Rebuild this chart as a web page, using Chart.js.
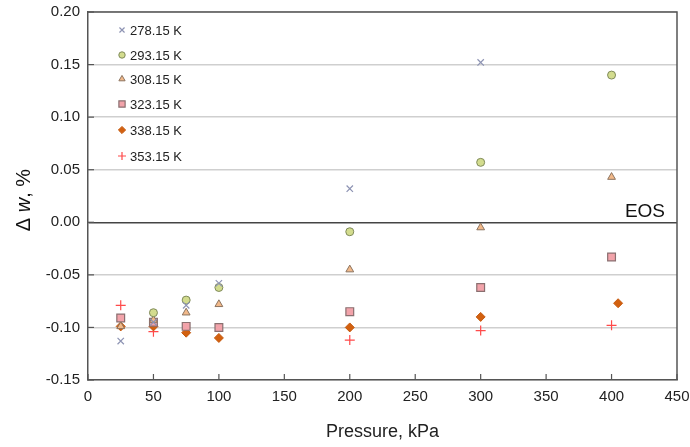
<!DOCTYPE html>
<html>
<head>
<meta charset="utf-8">
<script src="https://cdn.jsdelivr.net/npm/chart.js@4"></script>
<style>
  html, body { margin: 0; padding: 0; background: #fff; }
  #wrap { width: 690px; height: 447px; }
</style>
</head>
<body>
<div id="wrap"><canvas id="eosChart"></canvas></div>
<script>
// Deviation of speed of sound from EOS, %
const seriesLabels = ['278.15 K', '293.15 K', '308.15 K', '323.15 K', '338.15 K', '353.15 K'];
const pressure = [25, 50, 75, 100, 200, 300, 400];

const dev278 = [-0.113, -0.095, -0.079, -0.058, 0.032, 0.152, null];
const dev293 = [null, -0.086, -0.074, -0.062, -0.009, 0.057, 0.140];
const dev308 = [-0.099, -0.093, -0.086, -0.078, -0.045, -0.005, 0.043];
const dev323 = [-0.091, -0.095, -0.099, -0.100, -0.085, -0.062, -0.033];
const dev338 = [-0.099, -0.099, -0.105, -0.110, -0.100, -0.090, -0.077];
const dev353 = [-0.079, -0.104, null, null, -0.112, -0.103, -0.098];
const pressure338 = [25, 50, 75, 100, 200, 300, 405];

const yTicks = [0.20, 0.15, 0.10, 0.05, 0.00, -0.05, -0.10, -0.15];
const xTicks = [0, 50, 100, 150, 200, 250, 300, 350, 400, 450];

function toPoints(xs, ys) {
  return xs.map((x, i) => ({ x: x, y: ys[i] })).filter(p => p.y !== null);
}

const styles = [
  { pointStyle: 'crossRot', radius: 4.5, bg: '#8d93b3', border: '#8d93b3', bw: 1.2 },
  { pointStyle: 'circle', radius: 4, bg: '#d3dc8e', border: '#7f8a5a', bw: 1 },
  { pointStyle: 'triangle', radius: 4.5, bg: '#f2b98a', border: '#8c7460', bw: 1 },
  { pointStyle: 'rect', radius: 5.5, bg: '#f2a3aa', border: '#8a6f70', bw: 1.2 },
  { pointStyle: 'rectRot', radius: 4.5, bg: '#d2600f', border: '#c55a10', bw: 1 },
  { pointStyle: 'cross', radius: 5, bg: '#ff4a4a', border: '#ff4a4a', bw: 1.2 }
];

const allData = [
  toPoints(pressure, dev278),
  toPoints(pressure, dev293),
  toPoints(pressure, dev308),
  toPoints(pressure, dev323),
  toPoints(pressure338, dev338),
  toPoints(pressure, dev353)
];

// draw the legend box, inside ticks, frame, EOS note and y title
const extras = {
  id: 'extras',
  afterDraw(chart) {
    const ctx = chart.ctx;
    const area = chart.chartArea;
    const xs = chart.scales.x, ys = chart.scales.y;
    ctx.save();
    // frame top/right
    ctx.strokeStyle = '#555';
    ctx.lineWidth = 1.5;
    ctx.beginPath();
    ctx.moveTo(area.left, area.top);
    ctx.lineTo(area.right, area.top);
    ctx.lineTo(area.right, area.bottom);
    ctx.stroke();
    // inside ticks
    ctx.lineWidth = 1.2;
    xTicks.forEach(v => {
      const px = xs.getPixelForValue(v);
      ctx.beginPath();
      ctx.moveTo(px, area.bottom);
      ctx.lineTo(px, area.bottom - 6);
      ctx.stroke();
    });
    yTicks.forEach(v => {
      const py = ys.getPixelForValue(v);
      ctx.beginPath();
      ctx.moveTo(area.left, py);
      ctx.lineTo(area.left + 6, py);
      ctx.stroke();
    });
    // legend
    const rowY = [30, 55, 79, 104, 130, 156];
    ctx.font = '13px "Liberation Sans", Arial, sans-serif';
    ctx.textBaseline = 'middle';
    ctx.textAlign = 'left';
    seriesLabels.forEach((lab, i) => {
      const s = styles[i];
      ctx.fillStyle = s.bg;
      ctx.strokeStyle = s.border;
      ctx.lineWidth = s.bw;
      Chart.helpers.drawPoint(ctx, { pointStyle: s.pointStyle, radius: s.radius * 0.8, borderWidth: s.bw }, 122, rowY[i]);
      ctx.fillStyle = '#222';
      ctx.fillText(lab, 130, rowY[i] + 1);
    });
    // EOS note
    ctx.font = '19px "Liberation Sans", Arial, sans-serif';
    ctx.textAlign = 'right';
    ctx.textBaseline = 'alphabetic';
    ctx.fillStyle = '#111';
    ctx.fillText('EOS', 665, 217);
    // y title with italic w
    ctx.translate(24, 200);
    ctx.rotate(-Math.PI / 2);
    ctx.textBaseline = 'middle';
    ctx.textAlign = 'left';
    const f1 = '20px "Liberation Sans", Arial, sans-serif';
    const f2 = 'italic 20px "Liberation Sans", Arial, sans-serif';
    const parts = [['Δ ', f1], ['w', f2], [', %', f1]];
    let total = 0;
    parts.forEach(p => { ctx.font = p[1]; total += ctx.measureText(p[0]).width; });
    let cx = -total / 2;
    parts.forEach(p => {
      ctx.font = p[1];
      ctx.fillText(p[0], cx, 0);
      cx += ctx.measureText(p[0]).width;
    });
    ctx.restore();
  }
};

new Chart(document.getElementById('eosChart'), {
  type: 'scatter',
  data: {
    datasets: allData.map((d, i) => ({
      label: seriesLabels[i],
      data: d,
      pointStyle: styles[i].pointStyle,
      pointRadius: styles[i].radius,
      pointBackgroundColor: styles[i].bg,
      pointBorderColor: styles[i].border,
      pointBorderWidth: styles[i].bw,
      showLine: false
    }))
  },
  options: {
    responsive: true,
    maintainAspectRatio: false,
    animation: false,
    layout: { padding: { top: 12, right: 13, left: 0, bottom: 0 } },
    plugins: {
      legend: { display: false },
      tooltip: { enabled: false }
    },
    scales: {
      x: {
        type: 'linear',
        min: 0,
        max: 450,
        afterBuildTicks: axis => { axis.ticks = xTicks.map(v => ({ value: v })); },
        afterFit: axis => { axis.height = 67; axis.paddingLeft = 0; axis.paddingRight = 0; },
        grid: { display: false, drawTicks: false },
        border: { color: '#555', width: 1.5 },
        ticks: {
          color: '#222',
          padding: 8,
          maxRotation: 0,
          font: { family: '"Liberation Sans", Arial, sans-serif', size: 15 }
        },
        title: {
          display: true,
          text: 'Pressure, kPa',
          color: '#222',
          padding: { top: 6 },
          font: { family: '"Liberation Sans", Arial, sans-serif', size: 18 }
        }
      },
      y: {
        min: -0.15,
        max: 0.20,
        afterBuildTicks: axis => { axis.ticks = yTicks.map(v => ({ value: v })); },
        afterFit: axis => { axis.width = 88; axis.paddingTop = 0; axis.paddingBottom = 0; },
        grid: {
          drawTicks: false,
          color: ctx => (ctx.tick && Math.abs(ctx.tick.value) < 1e-9) ? '#444' : '#cfcfcf',
          lineWidth: 1.5
        },
        border: { color: '#555', width: 1.5 },
        ticks: {
          color: '#222',
          padding: 8,
          font: { family: '"Liberation Sans", Arial, sans-serif', size: 15 },
          callback: v => v.toFixed(2)
        }
      }
    }
  },
  plugins: [extras]
});
</script>
</body>
</html>
